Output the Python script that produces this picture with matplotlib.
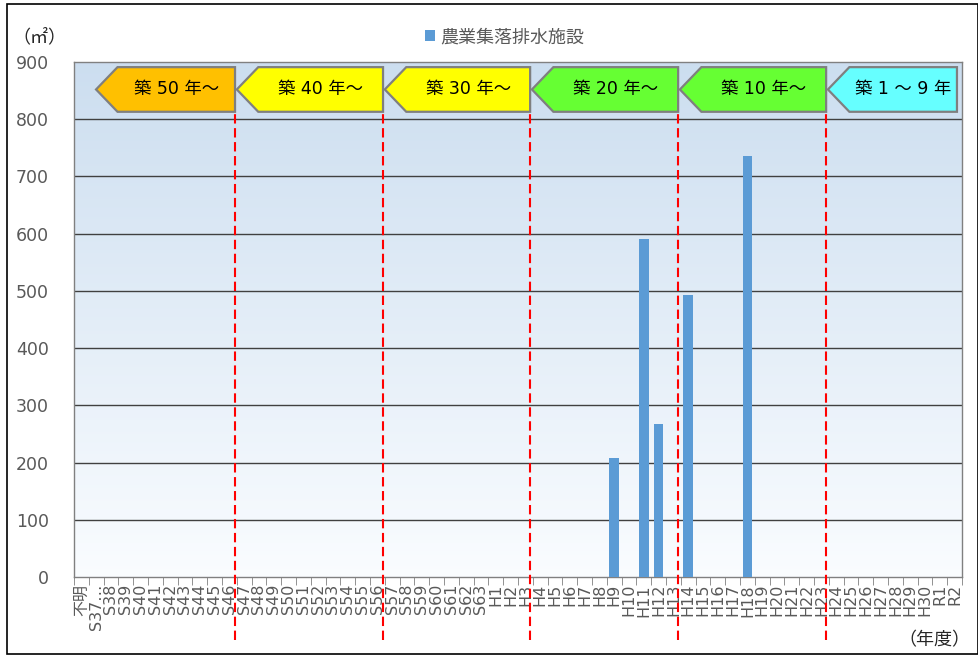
import numpy as np
import matplotlib
matplotlib.use("Agg")
import matplotlib.pyplot as plt
from matplotlib.patches import Polygon, Rectangle

plt.rcParams['font.family'] = ['DejaVu Sans', 'Noto Sans CJK JP']

# categories (construction year)
years = ['不明', 'S37…'] + ['S%d' % y for y in range(38, 64)] + \
        ['H%d' % y for y in range(1, 31)] + ['R1', 'R2']
# floor area (m2) of 農業集落排水施設 per year
area = {'H9': 208, 'H11': 590, 'H12': 267, 'H14': 493, 'H18': 736}
values = [area.get(y, 0) for y in years]

series_name = '農業集落排水施設'
age_labels = ['築 50 年～', '築 40 年～', '築 30 年～', '築 20 年～', '築 10 年～', '築 1 ～ 9 年']
age_colors = ['#FFC000', '#FFFF00', '#FFFF00', '#66FF33', '#66FF33', '#66FFFF']
dividers = [10.38, 20.38, 30.32, 40.32, 50.32]

W, H = 979, 655
fig = plt.figure(figsize=(W / 100, H / 100), dpi=100)
ax = fig.add_axes([74 / W, (H - 577) / H, 888 / W, 515 / H])

x = np.arange(len(years))
n = len(years)
ax.set_xlim(-0.5, n - 0.5)
ax.set_ylim(0, 900)

# gradient background
top = np.array([0.80, 0.87, 0.94])
bot = np.array([0.98, 0.99, 1.0])
t = np.linspace(0, 1, 256)[:, None]
grad = (top * (1 - t) + bot * t)[:, None, :]
ax.imshow(grad, extent=[-0.5, n - 0.5, 0, 900], aspect='auto', zorder=0)

for yv in range(100, 900, 100):
    ax.axhline(yv, color='#404040', lw=1.0, zorder=1)

ax.bar(x, values, width=0.65, color='#5B9BD5', zorder=3, label=series_name)

# age bands (arrow boxes)
lefts = [0.99] + [d + 0.12 for d in dividers]
rights = dividers + [59.16]
y0, y1 = 813, 891
ym = (y0 + y1) / 2
head = 1.45
for l, r, lab, c in zip(lefts, rights, age_labels, age_colors):
    pts = [(l, ym), (l + head, y1), (r, y1), (r, y0), (l + head, y0)]
    ax.add_patch(Polygon(pts, closed=True, facecolor=c, edgecolor='#7f7f7f',
                         lw=1.6, zorder=4))
    ax.text((l + head + r) / 2, ym, lab, ha='center', va='center',
            fontsize=12.5, color='black', zorder=5)

for d in dividers:
    ax.plot([d, d], [-110, y0], color='red', lw=1.5, ls=(0, (4.5, 2.2)),
            clip_on=False, zorder=6)

for s in ax.spines.values():
    s.set_color('#808080')
    s.set_linewidth(1.0)

ax.set_yticks(range(0, 1000, 100))
ax.tick_params(axis='y', length=0, pad=18, labelsize=12.5, labelcolor='#595959')
ax.set_xticks(x)
ax.set_xticklabels(years, rotation=90, fontsize=11.5, color='#595959')
ax.tick_params(axis='x', length=0, pad=5)
ax.set_xticks(np.arange(-0.5, n, 1), minor=True)
ax.tick_params(axis='x', which='minor', length=6, color='#808080')

leg = ax.legend(loc='center', bbox_to_anchor=(505 / W, (H - 37) / H),
                bbox_transform=fig.transFigure, frameon=False, fontsize=13,
                handlelength=0.55, handleheight=0.55, handletextpad=0.3)
for tx in leg.get_texts():
    tx.set_color('#595959')

fig.text(39 / W, (H - 37) / H, '（㎡）', ha='center', va='center', fontsize=13, color='#262626')
fig.text(934 / W, (H - 640) / H, '（年度）', ha='center', va='center', fontsize=13, color='#262626')

fig.patches.append(Rectangle((7 / W, 1 / H), 971 / W, 650 / H, transform=fig.transFigure,
                             fill=False, edgecolor='black', lw=1.2))

fig.savefig('out.png', dpi=100)
